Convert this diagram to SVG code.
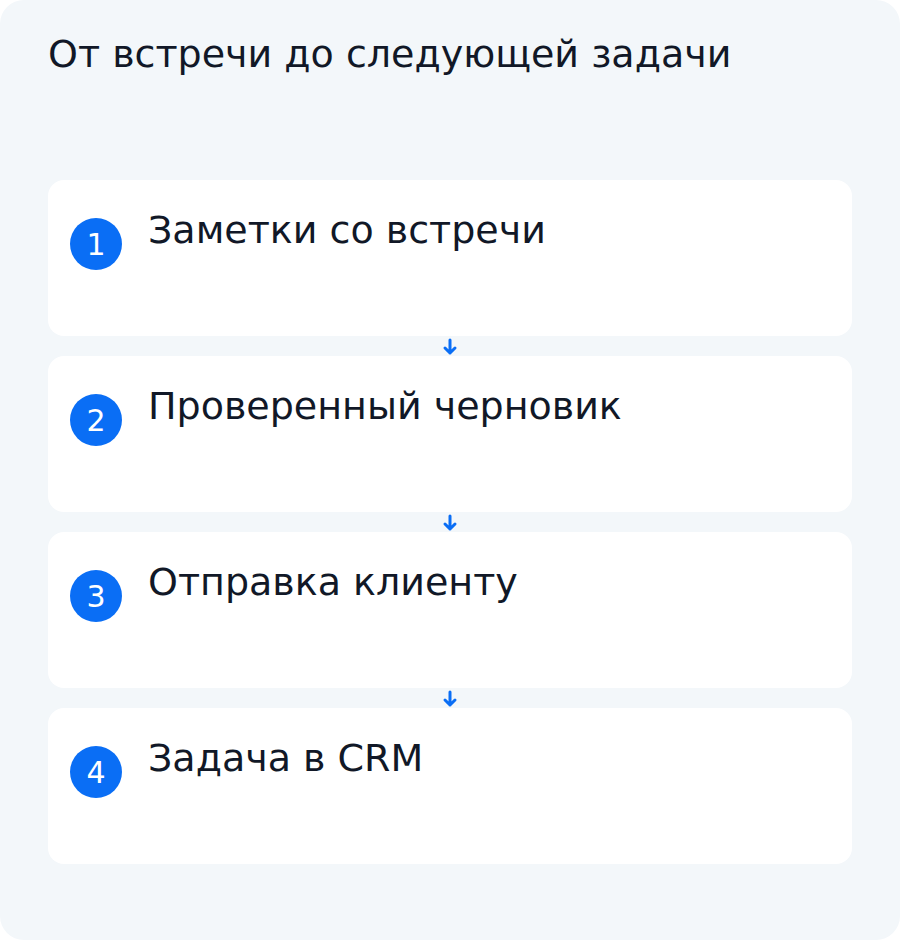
<svg xmlns="http://www.w3.org/2000/svg" width="900" height="940" viewBox="0 0 900 940">
<defs>
<style>
.card{fill:#ffffff;}
.badge{fill:#0a6ef5;}
.num{font-family:"DejaVu Sans",sans-serif;font-size:30px;fill:#ffffff;text-anchor:middle;}
.label{font-family:"DejaVu Sans",sans-serif;font-size:38px;fill:#111827;}
.title{font-family:"DejaVu Sans",sans-serif;font-size:38px;fill:#111827;}
.conn{stroke:#0a6ef5;stroke-width:3;fill:none;stroke-linecap:round;stroke-linejoin:round;}
</style>
</defs>
<rect x="0" y="0" width="900" height="940" rx="24" fill="#f3f7fa"/>
<text class="title" x="48" y="67">От встречи до следующей задачи</text>
<g id="node1">
<rect class="card" x="48" y="180" width="804" height="156" rx="16"/>
<circle class="badge" cx="96" cy="244" r="26"/>
<text class="num" x="96" y="255">1</text>
<text class="label" x="148" y="243">Заметки со встречи</text>
</g>
<g id="node2">
<rect class="card" x="48" y="356" width="804" height="156" rx="16"/>
<circle class="badge" cx="96" cy="420" r="26"/>
<text class="num" x="96" y="431">2</text>
<text class="label" x="148" y="419">Проверенный черновик</text>
</g>
<g id="node3">
<rect class="card" x="48" y="532" width="804" height="156" rx="16"/>
<circle class="badge" cx="96" cy="596" r="26"/>
<text class="num" x="96" y="607">3</text>
<text class="label" x="148" y="595">Отправка клиенту</text>
</g>
<g id="node4">
<rect class="card" x="48" y="708" width="804" height="156" rx="16"/>
<circle class="badge" cx="96" cy="772" r="26"/>
<text class="num" x="96" y="783">4</text>
<text class="label" x="148" y="771">Задача в CRM</text>
</g>
<g id="connectors">
<path class="conn" d="M450 340 V353 M445 348 L450 353 L455 348"/>
<path class="conn" d="M450 516 V529 M445 524 L450 529 L455 524"/>
<path class="conn" d="M450 692 V705 M445 700 L450 705 L455 700"/>
</g>
</svg>
